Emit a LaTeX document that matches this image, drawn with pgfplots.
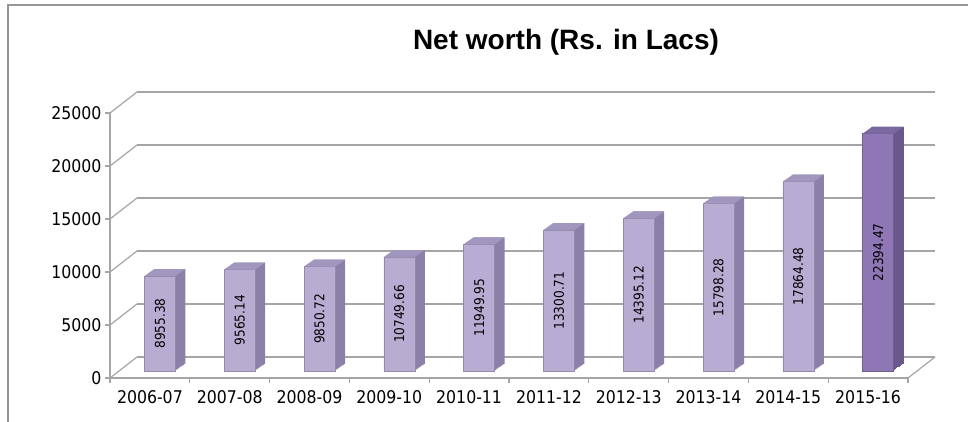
\documentclass[border=0pt]{standalone}
\usepackage{fontspec}
\setmainfont{DejaVu Sans Condensed}
\newfontfamily\titlefont{Liberation Sans}
\usepackage{pgfplots}
\pgfplotsset{compat=1.18}
\usepackage{pgfplotstable}

\definecolor{gridc}{RGB}{165,165,165}
\definecolor{framec}{RGB}{150,150,150}
\definecolor{barfront}{RGB}{185,172,210}
\definecolor{barside}{RGB}{140,128,168}
\definecolor{bartop}{RGB}{160,150,190}
\definecolor{lastfront}{RGB}{143,119,181}
\definecolor{lastside}{RGB}{106,88,140}
\definecolor{lasttop}{RGB}{122,104,160}

\pgfdeclareplotmark{topface}{%
  \pgfpathmoveto{\pgfpoint{-15.5pt}{0pt}}%
  \pgfpathlineto{\pgfpoint{15.5pt}{0pt}}%
  \pgfpathlineto{\pgfpoint{25.5pt}{7pt}}%
  \pgfpathlineto{\pgfpoint{-5.5pt}{7pt}}%
  \pgfpathclose\pgfusepathqfill}

\pgfplotstableread{
x y
0 8955.38
1 9565.14
2 9850.72
3 10749.66
4 11949.95
5 13300.71
6 14395.12
7 15798.28
8 17864.48
}\mainbars
\pgfplotstableread{
x y
9 22394.47
}\lastbar

\begin{document}
\begin{tikzpicture}
\useasboundingbox (0,0) rectangle (968pt,422pt);
\draw[framec, line width=1.5pt] (8pt,-5pt) |- (985pt,417pt);
\node[font=\titlefont\bfseries\fontsize{28}{32}\selectfont] at (566pt,380pt) {Net worth (Rs. in Lacs)};

% back wall
\begin{axis}[at={(137pt,65pt)}, anchor=south west, scale only axis,
  width=798pt, height=265pt, xmin=-0.5, xmax=9.5, ymin=0, ymax=25000,
  axis line style={draw=none}, xtick=\empty, ytick={0,5000,...,25000},
  scaled y ticks=false, yticklabel style={opacity=0},
  major tick length=0pt, ymajorgrids,
  grid style={gridc, line width=1.2pt}]
\addplot[draw=none, mark=none] coordinates {(0,0)};
\end{axis}

% front axis with bars
\begin{axis}[at={(110pt,44pt)}, anchor=south west, scale only axis,
  width=798pt, height=265pt, xmin=-0.5, xmax=9.5, ymin=0, ymax=25000,
  clip=false,
  axis x line=bottom, axis y line=left,
  axis line style={gridc, line width=1.2pt, -},
  xtick={-0.5,0.5,...,9.5}, x tick label as interval,
  xticklabels={2006-07,2007-08,2008-09,2009-10,2010-11,2011-12,2012-13,2013-14,2014-15,2015-16},
  ytick={0,5000,...,25000}, tick align=outside, major tick length=5pt,
  tick style={gridc, line width=1.2pt},
  scaled y ticks=false,
  ticklabel style={font=\fontsize{17.5}{20}\selectfont, text=black},
  xticklabel style={yshift=-4pt},
  /pgf/number format/assume math mode=true,
  yticklabel style={/pgf/number format/1000 sep={}},
  ]
\pgfplotsinvokeforeach{0,5000,10000,15000,20000,25000}{
  \draw[gridc, line width=1.2pt] (axis cs:-0.5,#1) -- ++(27pt,21pt);
}
\draw[gridc, line width=1.2pt] (axis cs:9.5,0) -- ++(27pt,21pt);

\pgfplotsinvokeforeach{1,...,8}{
  \addplot[ybar, bar width=31pt, bar shift=0pt, fill=barside, draw=none,
    xshift={10pt+#1*1.25pt}, yshift={7pt+#1*0.875pt}] table[x=x,y=y]{\mainbars};
  \addplot[ybar, bar width=31pt, bar shift=0pt, fill=lastside, draw=none,
    xshift={10pt+#1*1.25pt}, yshift={7pt+#1*0.875pt}] table[x=x,y=y]{\lastbar};
}
\addplot[only marks, mark=topface, mark options={fill=bartop},
  xshift=10pt, yshift=7pt] table[x=x,y=y]{\mainbars};
\addplot[only marks, mark=topface, mark options={fill=lasttop},
  xshift=10pt, yshift=7pt] table[x=x,y=y]{\lastbar};

\addplot[ybar, bar width=31pt, bar shift=0pt, fill=barfront, draw=barfront!80!black,
  line width=0.4pt, xshift=10pt, yshift=7pt] table[x=x,y=y]{\mainbars};
\addplot[ybar, bar width=31pt, bar shift=0pt, fill=lastfront, draw=lastfront!80!black,
  line width=0.4pt, xshift=10pt, yshift=7pt] table[x=x,y=y]{\lastbar};

\addplot[draw=none, mark=none, xshift=10pt, yshift=7pt,
  nodes near coords, point meta=explicit symbolic,
  nodes near coords style={rotate=90, anchor=center, text=black,
    font=\fontsize{13.5}{15}\selectfont}]
  table[x=x, y expr=\thisrow{y}/2, meta=y]{\mainbars};
\addplot[draw=none, mark=none, xshift=10pt, yshift=7pt,
  nodes near coords, point meta=explicit symbolic,
  nodes near coords style={rotate=90, anchor=center, text=black,
    font=\fontsize{13.5}{15}\selectfont}]
  table[x=x, y expr=\thisrow{y}/2, meta=y]{\lastbar};
\end{axis}
\end{tikzpicture}
\end{document}
